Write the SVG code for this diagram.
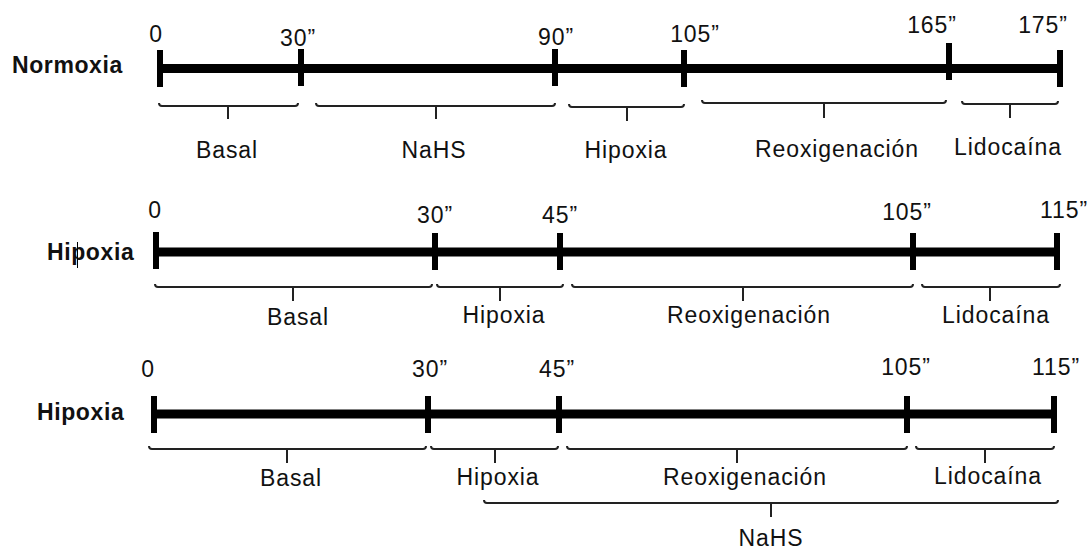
<svg xmlns="http://www.w3.org/2000/svg" width="1089" height="552" viewBox="0 0 1089 552">
<style>
text{font-family:"Liberation Sans",Arial,sans-serif;font-size:23px;letter-spacing:0.9px;fill:#111}
.t{text-anchor:middle}
.b{font-weight:bold;letter-spacing:0.6px}
.axis{stroke:#000;stroke-width:9;fill:none}
.tick{stroke:#000;stroke-width:6;fill:none}
.brace{stroke:#222;stroke-width:2;fill:none}
</style>
<rect width="1089" height="552" fill="#fff"/>
<g id="normoxia">
<text class="b" x="12" y="73">Normoxia</text>
<line class="axis" x1="160" y1="68.5" x2="1060" y2="68.5"/>
<g class="tick-group">
<line class="tick" x1="160" y1="50" x2="160" y2="87"/>
<line class="tick" x1="301" y1="49" x2="301" y2="86"/>
<line class="tick" x1="555" y1="49" x2="555" y2="86"/>
<line class="tick" x1="684" y1="50" x2="684" y2="87"/>
<line class="tick" x1="949" y1="43" x2="949" y2="80"/>
<line class="tick" x1="1060" y1="50" x2="1060" y2="87"/>
</g>
<text class="t" x="156" y="42">0</text>
<text class="t" x="298" y="46">30”</text>
<text class="t" x="556" y="45">90”</text>
<text class="t" x="695" y="42">105”</text>
<text class="t" x="932" y="33">165”</text>
<text class="t" x="1043" y="33">175”</text>
<text class="t" x="227" y="158">Basal</text>
<text class="t" x="434" y="158">NaHS</text>
<text class="t" x="626" y="158">Hipoxia</text>
<text class="t" x="837" y="157">Reoxigenación</text>
<text class="t" x="1008" y="155">Lidocaína</text>
</g>
<g id="hipoxia1">
<text class="b" x="47" y="260">Hipoxia</text>
<line stroke="#000" stroke-width="1" x1="77.5" y1="242" x2="77.5" y2="268"/>
<line class="axis" x1="156" y1="252" x2="1057" y2="252"/>
<line class="tick" x1="156" y1="232" x2="156" y2="269"/>
<line class="tick" x1="435" y1="233" x2="435" y2="270"/>
<line class="tick" x1="560" y1="233" x2="560" y2="270"/>
<line class="tick" x1="913" y1="233" x2="913" y2="270"/>
<line class="tick" x1="1057" y1="233" x2="1057" y2="270"/>
<text class="t" x="155" y="218">0</text>
<text class="t" x="435" y="223">30”</text>
<text class="t" x="560" y="223">45”</text>
<text class="t" x="907" y="220">105”</text>
<text class="t" x="1064" y="218">115”</text>
<text class="t" x="298" y="325">Basal</text>
<text class="t" x="504" y="323">Hipoxia</text>
<text class="t" x="749" y="323">Reoxigenación</text>
<text class="t" x="996" y="323">Lidocaína</text>
</g>
<g id="hipoxia2">
<text class="b" x="37" y="420">Hipoxia</text>
<line class="axis" x1="154" y1="414" x2="1054" y2="414"/>
<line class="tick" x1="154" y1="396" x2="154" y2="433"/>
<line class="tick" x1="428" y1="396" x2="428" y2="433"/>
<line class="tick" x1="559" y1="396" x2="559" y2="433"/>
<line class="tick" x1="907" y1="396" x2="907" y2="433"/>
<line class="tick" x1="1054" y1="396" x2="1054" y2="433"/>
<text class="t" x="148" y="377">0</text>
<text class="t" x="430" y="377">30”</text>
<text class="t" x="557" y="377">45”</text>
<text class="t" x="906" y="375">105”</text>
<text class="t" x="1056" y="375">115”</text>
<text class="t" x="291" y="486">Basal</text>
<text class="t" x="498" y="485">Hipoxia</text>
<text class="t" x="745" y="485">Reoxigenación</text>
<text class="t" x="988" y="484">Lidocaína</text>
<text class="t" x="771" y="546">NaHS</text>
</g>
<g id="connectors">
<path class="brace" d="M159 103Q159 106 162 106H295Q298 106 298 103M228 106V119"/>
<path class="brace" d="M316 103Q316 106 319 106H552Q555 106 555 103M436 106V119"/>
<path class="brace" d="M569 104Q569 107 572 107H681Q684 107 684 104M627 107V121"/>
<path class="brace" d="M702 100Q702 103 705 103H943Q946 103 946 100M824 103V118"/>
<path class="brace" d="M962 101Q962 104 965 104H1055Q1058 104 1058 101M1010 104V118"/>
<path class="brace" d="M155 284Q155 287 158 287H429Q432 287 432 284M293 287V301"/>
<path class="brace" d="M437 284Q437 287 440 287H560Q563 287 563 284M500 287V301"/>
<path class="brace" d="M572 284Q572 287 575 287H910Q913 287 913 284M743 287V301"/>
<path class="brace" d="M922 284Q922 287 925 287H1057Q1060 287 1060 284M990 287V301"/>
<path class="brace" d="M149 446Q149 449 152 449H423Q426 449 426 446M287 449V463"/>
<path class="brace" d="M431 446Q431 449 434 449H555Q558 449 558 446M495 449V463"/>
<path class="brace" d="M567 446Q567 449 570 449H904Q907 449 907 446M737 449V463"/>
<path class="brace" d="M916 446Q916 449 919 449H1051Q1054 449 1054 446M985 449V463"/>
<path class="brace" d="M484 500Q484 503 487 503H1055Q1058 503 1058 500M771 503V517"/>
</g>
</svg>
